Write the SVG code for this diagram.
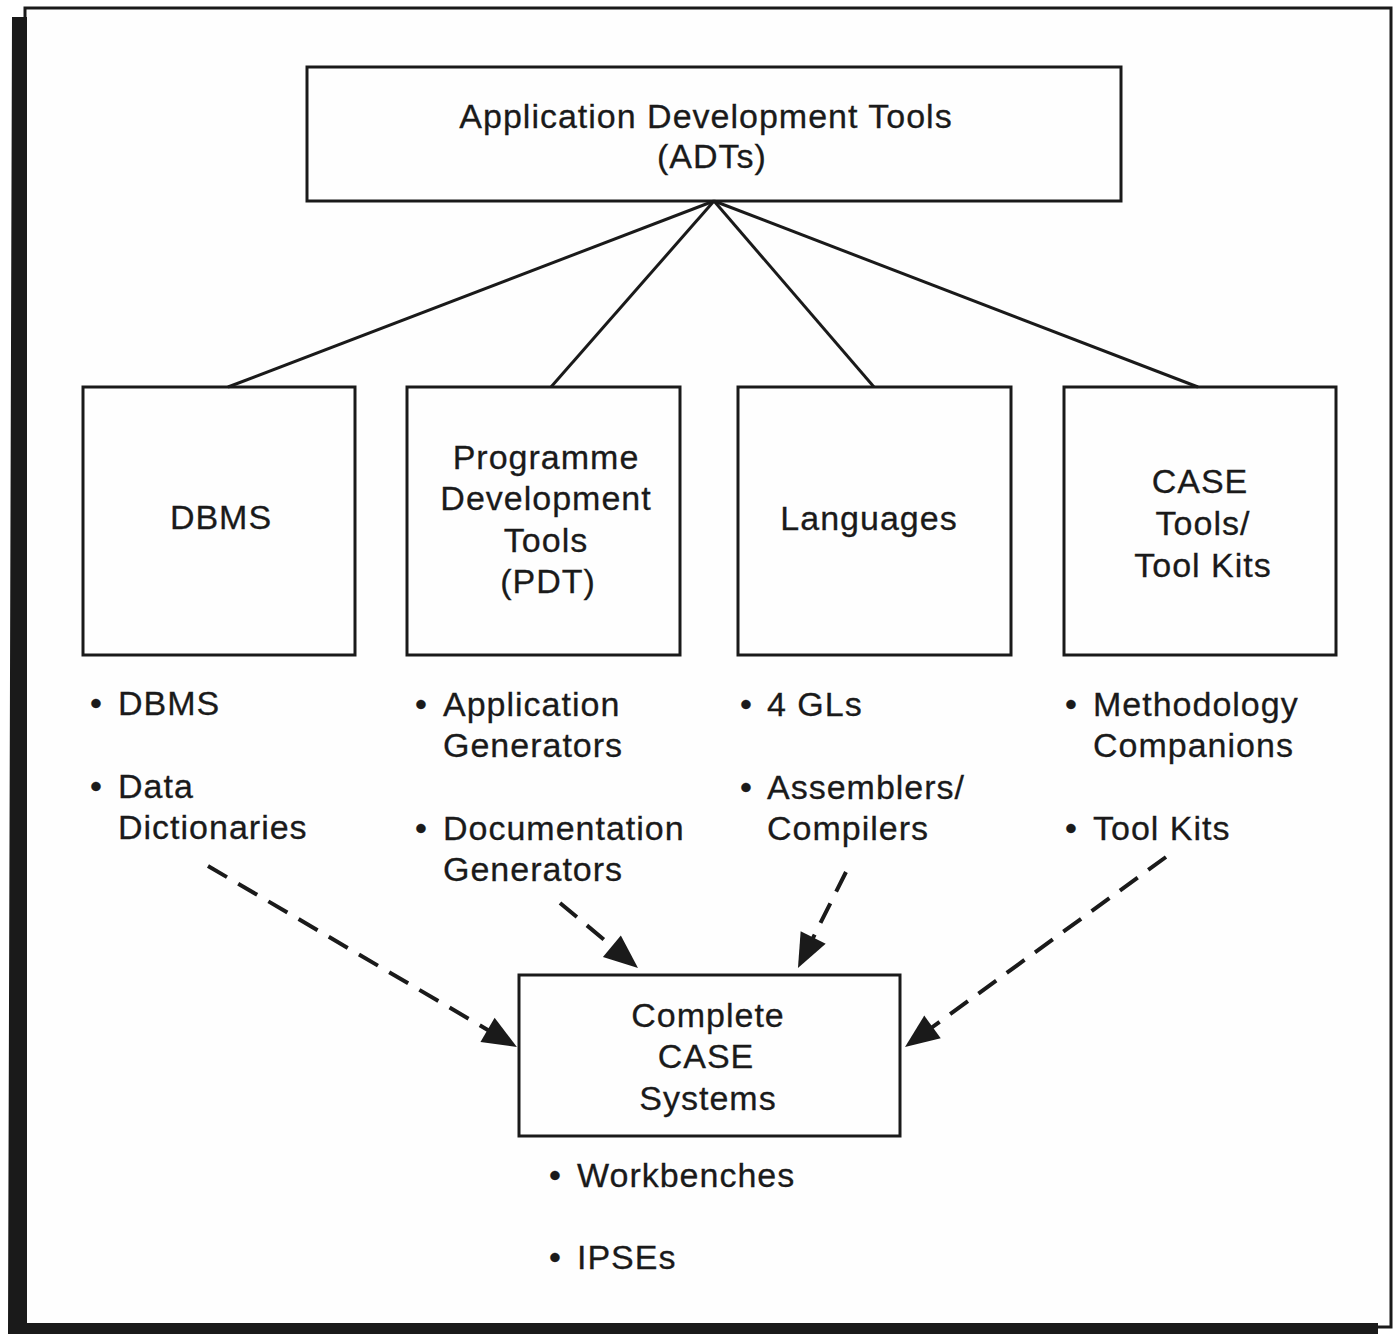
<svg xmlns="http://www.w3.org/2000/svg" width="1397" height="1335" viewBox="0 0 1397 1335">
  <style>
    .box { fill: none; stroke: #1a1a1a; stroke-width: 3; }
    .t { font-family: "Liberation Sans", Arial, sans-serif; font-size: 34px; fill: #1a1a1a; letter-spacing: 1px; stroke: #1a1a1a; stroke-width: 0.3px; }
    .c { text-anchor: middle; }
    .link { stroke: #1a1a1a; stroke-width: 3; fill: none; }
    .dash { stroke: #1a1a1a; stroke-width: 4; fill: none; stroke-dasharray: 22 13; }
  </style>
  <defs>
    <marker id="head" markerUnits="userSpaceOnUse" markerWidth="40" markerHeight="32" viewBox="0 -16 36 32" refX="12" refY="0" orient="auto">
      <path d="M0,-14 L34,0 L0,14 z" fill="#1a1a1a"/>
    </marker>
  </defs>

  <!-- page and framed panel with shadow -->
  <rect x="0" y="0" width="1397" height="1335" fill="#ffffff"/>
  <rect x="25" y="8" width="1366" height="1319" fill="#fefefe" stroke="#1a1a1a" stroke-width="3"/>
  <polygon points="12,17 27,17 27,1323 1378,1323 1378,1334 8,1334" fill="#1a1a1a"/>

  <!-- connectors -->
  <g id="connectors">
    <line class="link" x1="714" y1="201" x2="228" y2="387"/>
    <line class="link" x1="714" y1="201" x2="551" y2="387"/>
    <line class="link" x1="714" y1="201" x2="874" y2="387"/>
    <line class="link" x1="714" y1="201" x2="1198" y2="387"/>
    <line class="dash" x1="208" y1="866" x2="497.9" y2="1035.9" marker-end="url(#head)"/>
    <line class="dash" x1="560" y1="903" x2="621.1" y2="953.9" marker-end="url(#head)"/>
    <line class="dash" x1="846" y1="872" x2="807.8" y2="948.3" marker-end="url(#head)"/>
    <line class="dash" x1="1166" y1="857" x2="922.8" y2="1034.0" marker-end="url(#head)"/>
  </g>

  <!-- root node -->
  <g id="adt">
    <rect class="box" x="307" y="67" width="814" height="134"/>
    <text class="t c" x="706" y="128">Application Development Tools</text>
    <text class="t c" x="712" y="168">(ADTs)</text>
  </g>

  <!-- category nodes -->
  <g id="dbms">
    <rect class="box" x="83" y="387" width="272" height="268"/>
    <text class="t c" x="221" y="529">DBMS</text>
  </g>
  <g id="pdt">
    <rect class="box" x="407" y="387" width="273" height="268"/>
    <text class="t c" x="546" y="469">Programme</text>
    <text class="t c" x="546" y="510">Development</text>
    <text class="t c" x="546" y="552">Tools</text>
    <text class="t c" x="548" y="593">(PDT)</text>
  </g>
  <g id="languages">
    <rect class="box" x="738" y="387" width="273" height="268"/>
    <text class="t c" x="869" y="530">Languages</text>
  </g>
  <g id="case-tools">
    <rect class="box" x="1064" y="387" width="272" height="268"/>
    <text class="t c" x="1200" y="493">CASE</text>
    <text class="t c" x="1203" y="535">Tools/</text>
    <text class="t c" x="1203" y="577">Tool Kits</text>
  </g>

  <!-- bullet lists under each category -->
  <g id="dbms-items">
    <text class="t" x="90" y="715">•</text>
    <text class="t" x="118" y="715">DBMS</text>
    <text class="t" x="90" y="798">•</text>
    <text class="t" x="118" y="798">Data</text>
    <text class="t" x="118" y="839">Dictionaries</text>
  </g>
  <g id="pdt-items">
    <text class="t" x="415" y="716">•</text>
    <text class="t" x="443" y="716">Application</text>
    <text class="t" x="443" y="757">Generators</text>
    <text class="t" x="415" y="840">•</text>
    <text class="t" x="443" y="840">Documentation</text>
    <text class="t" x="443" y="881">Generators</text>
  </g>
  <g id="language-items">
    <text class="t" x="740" y="716">•</text>
    <text class="t" x="767" y="716">4 GLs</text>
    <text class="t" x="740" y="799">•</text>
    <text class="t" x="767" y="799">Assemblers/</text>
    <text class="t" x="767" y="840">Compilers</text>
  </g>
  <g id="case-items">
    <text class="t" x="1065" y="716">•</text>
    <text class="t" x="1093" y="716">Methodology</text>
    <text class="t" x="1093" y="757">Companions</text>
    <text class="t" x="1065" y="840">•</text>
    <text class="t" x="1093" y="840">Tool Kits</text>
  </g>

  <!-- target node -->
  <g id="complete-case">
    <rect class="box" x="519" y="975" width="381" height="161"/>
    <text class="t c" x="708" y="1027">Complete</text>
    <text class="t c" x="706" y="1068">CASE</text>
    <text class="t c" x="708" y="1110">Systems</text>
  </g>
  <g id="complete-items">
    <text class="t" x="549" y="1187">•</text>
    <text class="t" x="577" y="1187">Workbenches</text>
    <text class="t" x="549" y="1269">•</text>
    <text class="t" x="577" y="1269">IPSEs</text>
  </g>
</svg>
